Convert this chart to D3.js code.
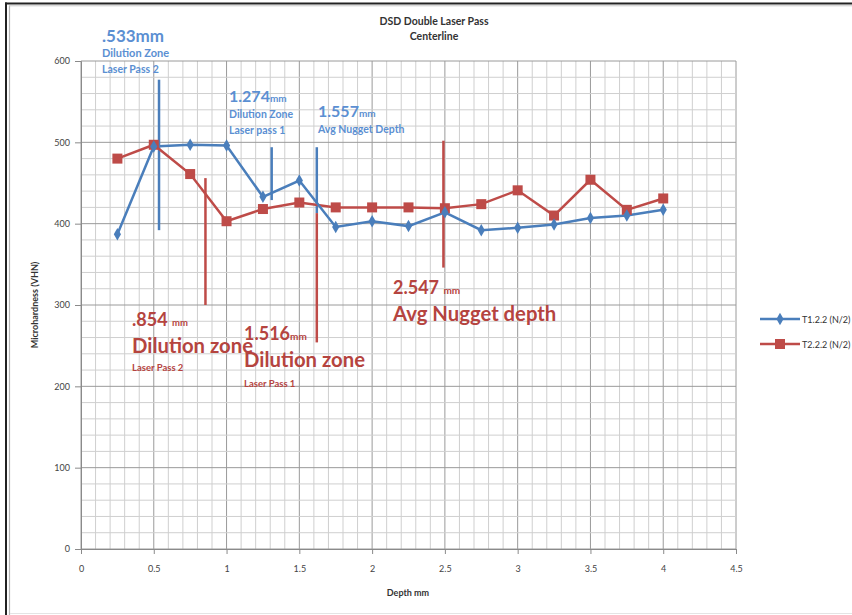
<!DOCTYPE html>
<html><head><meta charset="utf-8">
<script src="https://cdn.jsdelivr.net/npm/d3@7"></script>
<style>body{margin:0;background:#fff}svg{display:block;font-family:Lato,"Open Sans",sans-serif}</style>
</head><body><svg id="c" width="852" height="615"></svg>
<script>
const depths = [0.25,0.5,0.75,1.0,1.25,1.5,1.75,2.0,2.25,2.5,2.75,3.0,3.25,3.5,3.75,4.0];
const t1Values = [387,495,497,496,433,453,396,403,397,414,392,395,399,407,410,417];
const t2Values = [480,497,461,403,418,426,420,420,420,419,424,441,410,454,417,431];
const seriesNames = ["T1.2.2 (N/2)","T2.2.2 (N/2)"];
const xTicks = [0,0.5,1,1.5,2,2.5,3,3.5,4,4.5];
const xTickLabels = ["0","0.5","1","1.5","2","2.5","3","3.5","4","4.5"];
const yTicks = [0,100,200,300,400,500,600];
// annotation marker lines: [x, yFrom, yTo]
const blueMarks = [[0.536,392,577],[1.31,429,494],[1.62,413,494]];
const redMarks = [[0.855,300,456],[1.62,254,413],[2.49,346,502]];

const svg = d3.select("#c");
const blue = "#4A7EBB", red = "#BE4B48";
const blueText = "#5B8FD2", redText = "#B5443F";
const x = d3.scaleLinear().domain([0,4.5]).range([81,736]);
const y = d3.scaleLinear().domain([0,600]).range([549,61]);

// frame
svg.append("line").attr("x1",6).attr("x2",6).attr("y1",2.5).attr("y2",615).attr("stroke","#222").attr("stroke-width",2);
svg.append("line").attr("x1",5).attr("x2",852).attr("y1",3.5).attr("y2",3.5).attr("stroke","#222").attr("stroke-width",2);
svg.append("line").attr("x1",9.5).attr("x2",9.5).attr("y1",5.5).attr("y2",615).attr("stroke","#b5b5b5").attr("stroke-width",1.2);
svg.append("line").attr("x1",9).attr("x2",852).attr("y1",5.8).attr("y2",5.8).attr("stroke","#c8c8c8").attr("stroke-width",1);
svg.append("line").attr("x1",10).attr("x2",852).attr("y1",613.5).attr("y2",613.5).attr("stroke","#e4e4e4").attr("stroke-width",1);

// grid
const g = svg.append("g");
d3.range(0,4.5001,0.1).forEach(v=>{
  const major = Math.abs(v*2-Math.round(v*2))<1e-6;
  g.append("line").attr("x1",x(v)).attr("x2",x(v)).attr("y1",y(0)).attr("y2",y(600))
   .attr("stroke",major?"#9a9a9a":"#cfcfcf").attr("stroke-width",1);
});
d3.range(0,600.1,20).forEach(v=>{
  const major = v%100===0;
  g.append("line").attr("x1",x(0)).attr("x2",x(4.5)).attr("y1",y(v)).attr("y2",y(v))
   .attr("stroke",major?"#9a9a9a":"#cfcfcf").attr("stroke-width",1);
});

// axes
const ax = svg.append("g").attr("transform",`translate(0,${y(0)})`)
  .call(d3.axisBottom(x).tickValues(xTicks).tickFormat((d,i)=>xTickLabels[i]).tickSize(5).tickPadding(12));
const ay = svg.append("g").attr("transform",`translate(${x(0)},0)`)
  .call(d3.axisLeft(y).tickValues(yTicks).tickSize(6).tickPadding(5));
[ax,ay].forEach(a=>{
  a.selectAll("path,line").attr("stroke","#8a8a8a");
  a.selectAll("text").attr("fill","#444").attr("font-size",9).attr("font-family","Lato,sans-serif");
});

svg.append("text").attr("x",408).attr("y",596).attr("text-anchor","middle").attr("font-size",9).attr("font-weight","bold").attr("fill","#333").text("Depth mm");
svg.append("text").attr("transform","translate(38,305) rotate(-90)").attr("text-anchor","middle").attr("font-size",9).attr("font-weight","bold").attr("fill","#333").text("Microhardness (VHN)");

svg.append("text").attr("x",434).attr("y",25).attr("text-anchor","middle").attr("font-size",10.5).attr("font-weight","bold").attr("fill","#333").text("DSD Double Laser Pass");
svg.append("text").attr("x",434).attr("y",40).attr("text-anchor","middle").attr("font-size",10.5).attr("font-weight","bold").attr("fill","#333").text("Centerline");

// annotation lines
blueMarks.forEach(m=>svg.append("line").attr("x1",x(m[0])).attr("x2",x(m[0])).attr("y1",y(m[1])).attr("y2",y(m[2])).attr("stroke",blue).attr("stroke-width",2.5));
redMarks.forEach(m=>svg.append("line").attr("x1",x(m[0])).attr("x2",x(m[0])).attr("y1",y(m[1])).attr("y2",y(m[2])).attr("stroke",red).attr("stroke-width",2.5));

// series
const line = d3.line().x(d=>x(d[0])).y(d=>y(d[1]));
const s1 = depths.map((d,i)=>[d,t1Values[i]]);
const s2 = depths.map((d,i)=>[d,t2Values[i]]);
svg.append("path").datum(s2).attr("d",line).attr("fill","none").attr("stroke",red).attr("stroke-width",2.5);
svg.append("path").datum(s1).attr("d",line).attr("fill","none").attr("stroke",blue).attr("stroke-width",2.5);
const diamond = d3.symbol().type(d3.symbolDiamond).size(45);
svg.selectAll(".sq").data(s2).join("rect").attr("x",d=>x(d[0])-5).attr("y",d=>y(d[1])-5).attr("width",10).attr("height",10).attr("fill",red);
svg.selectAll(".dm").data(s1).join("path").attr("d",diamond).attr("transform",d=>`translate(${x(d[0])},${y(d[1])})`).attr("fill",blue);

// annotation text
function txt(xp,yp,parts,color){
  const t = svg.append("text").attr("x",xp).attr("y",yp).attr("fill",color).attr("font-weight","bold");
  parts.forEach(p=>t.append("tspan").attr("font-size",p[1]).text(p[0]));
}
txt(102,42,[[".533mm",17]],blueText);
txt(102,57,[["Dilution Zone",11]],blueText);
txt(102,73,[["Laser Pass 2",10.5]],blueText);
txt(229,102,[["1.274",16],["mm",10]],blueText);
txt(229,118,[["Dilution Zone",10.5]],blueText);
txt(229,134,[["Laser pass 1",10.5]],blueText);
txt(318,117,[["1.557",16],["mm",10]],blueText);
txt(318,133,[["Avg Nugget Depth",10.5]],blueText);

txt(132,326,[[".854 ",18],["mm",9.5]],redText);
txt(132,353,[["Dilution zone",20.3]],redText);
txt(132,371,[["Laser Pass 2",9.5]],redText);
txt(244,340,[["1.516",18],["mm",10]],redText);
txt(244,367,[["Dilution zone",20.3]],redText);
txt(244,387,[["Laser Pass 1",9.5]],redText);
txt(393,294,[["2.547 ",18],["mm",10]],redText);
txt(393,321,[["Avg Nugget depth",20.3]],redText);

// legend
const lg = svg.append("g");
[[blue,"d"],[red,"s"]].forEach((c,i)=>{
  const yy = 319 + i*25;
  lg.append("line").attr("x1",760).attr("x2",800).attr("y1",yy).attr("y2",yy).attr("stroke",c[0]).attr("stroke-width",2.5);
  if(c[1]==="d") lg.append("path").attr("d",diamond).attr("transform",`translate(780,${yy})`).attr("fill",c[0]);
  else lg.append("rect").attr("x",775).attr("y",yy-5).attr("width",10).attr("height",10).attr("fill",c[0]);
  lg.append("text").attr("x",802).attr("y",yy+3.5).attr("font-size",9).attr("fill","#333").text(seriesNames[i]);
});
</script></body></html>
